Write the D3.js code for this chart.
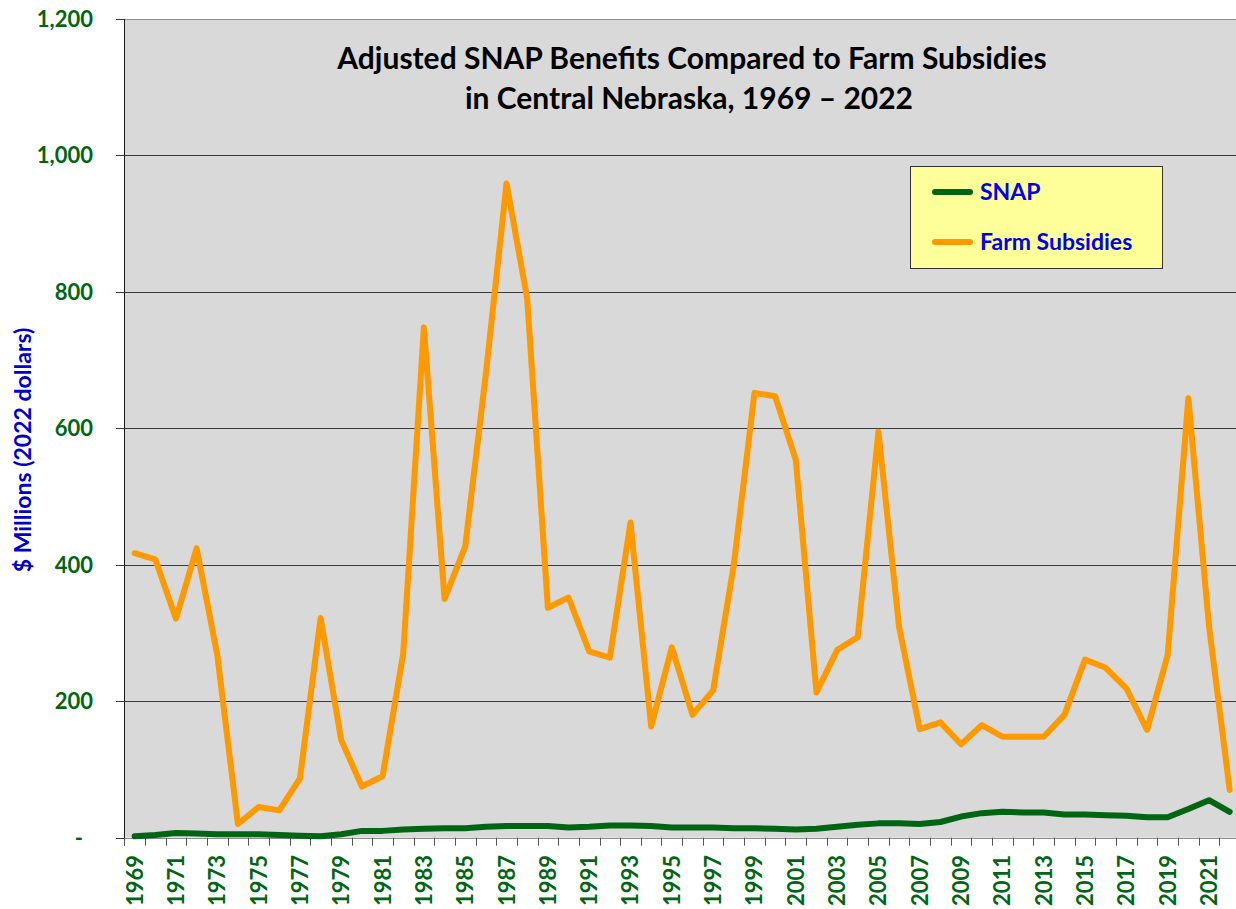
<!DOCTYPE html>
<html>
<head>
<meta charset="utf-8">
<script src="https://cdn.jsdelivr.net/npm/d3@7/dist/d3.min.js"></script>
<style>
  html, body { margin: 0; padding: 0; background: #ffffff; }
  svg { display: block; }
  text { font-family: Lato, "Open Sans", sans-serif; font-weight: bold; }
</style>
</head>
<body>
<svg id="chart" width="1236" height="909"></svg>
<script>
const years = [1969,1970,1971,1972,1973,1974,1975,1976,1977,1978,
  1979,1980,1981,1982,1983,1984,1985,1986,1987,1988,
  1989,1990,1991,1992,1993,1994,1995,1996,1997,1998,
  1999,2000,2001,2002,2003,2004,2005,2006,2007,2008,
  2009,2010,2011,2012,2013,2014,2015,2016,2017,2018,
  2019,2020,2021,2022];
const snap = [2,4,7,6,5,5,5,4,3,2,
  5,10,10,12,13,14,14,16,17,17,
  17,15,16,18,18,17,15,15,15,14,
  14,13,12,13,16,19,21,21,20,23,
  31,36,38,37,37,34,34,33,32,30,
  30,42,55,38];
const farm = [417,408,321,424,268,20,45,40,87,322,
  143,75,90,270,748,350,427,680,959,790,
  337,352,273,264,462,163,279,180,216,400,
  652,647,554,213,275,294,595,309,159,169,
  137,165,148,148,148,180,261,249,219,158,
  268,644,310,70];
const yTicks = [0,200,400,600,800,1000,1200];
const titleLines = ["Adjusted SNAP Benefits Compared to Farm Subsidies", "in Central Nebraska, 1969 \u2013 2022"];
const seriesNames = ["SNAP", "Farm Subsidies"];
const yAxisTitle = "$ Millions (2022 dollars)";

const svg = d3.select("#chart");
const pL = 124.3, pR = 1240, pT = 19, pB = 837.7;
const W = 1236;

const x = d3.scaleBand().domain(years).range([pL, pR]).paddingInner(0).paddingOuter(0);
const y = d3.scaleLinear().domain([0, 1200]).range([pB, pT]);
const cx = d => x(d) + x.bandwidth() / 2;

// plot background
svg.append("rect").attr("x", pL).attr("y", pT).attr("width", W - pL).attr("height", pB - pT).attr("fill", "#d9d9d9");

// gridlines + y ticks
const g = svg.append("g");
yTicks.forEach(t => {
  const yy = Math.round(y(t)) + 0.5;
  g.append("line").attr("x1", 116).attr("x2", W).attr("y1", yy).attr("y2", yy)
    .attr("stroke", (t === 1200 || t === 0) ? "#8c8c8c" : "#3a3a3a").attr("stroke-width", 1);
  g.append("line").attr("x1", 116).attr("x2", pL).attr("y1", yy).attr("y2", yy)
    .attr("stroke", "#3a3a3a").attr("stroke-width", 1);
  g.append("text").attr("x", t === 0 ? 83 : 93).attr("y", y(t)).attr("dy", "0.36em")
    .attr("text-anchor", "end").attr("fill", "#006614").style("font-size", "22px")
    .text(t === 0 ? "-" : d3.format(",")(t));
});
// left axis
svg.append("line").attr("x1", Math.round(pL) + 0.5).attr("x2", Math.round(pL) + 0.5)
  .attr("y1", pT).attr("y2", pB + 8).attr("stroke", "#1a1a1a");

// x ticks at band boundaries
years.forEach(yr => {
  const xx = Math.round(x(yr)) + 0.5;
  svg.append("line").attr("x1", xx).attr("x2", xx).attr("y1", pB).attr("y2", pB + 8)
    .attr("stroke", "#555").attr("stroke-width", 1);
});
// x labels (every other year)
years.forEach((yr, i) => {
  if (i % 2 !== 0) return;
  svg.append("text")
    .attr("transform", `translate(${cx(yr) + 8},855) rotate(-90)`)
    .attr("text-anchor", "end").attr("fill", "#006614").style("font-size", "22px")
    .text(yr);
});

// lines
const lineGen = d3.line().x((d, i) => cx(years[i])).y(d => y(d));
svg.append("path").datum(farm).attr("d", lineGen).attr("fill", "none")
  .attr("stroke", "#ff9900").attr("stroke-width", 6).attr("stroke-linejoin", "round").attr("stroke-linecap", "round");
svg.append("path").datum(snap).attr("d", lineGen).attr("fill", "none")
  .attr("stroke", "#006614").attr("stroke-width", 6).attr("stroke-linejoin", "round").attr("stroke-linecap", "round");

// title
svg.append("text").attr("x", 692).attr("y", 69).attr("text-anchor", "middle")
  .attr("fill", "#000").style("font-size", "30px").text(titleLines[0]);
svg.append("text").attr("x", 689).attr("y", 109).attr("text-anchor", "middle")
  .attr("fill", "#000").style("font-size", "30px").text(titleLines[1]);

// y axis title
svg.append("text").attr("transform", "translate(31,450) rotate(-90)")
  .attr("text-anchor", "middle").attr("fill", "#0000cc").style("font-size", "23px").text(yAxisTitle);

// legend
const lg = svg.append("g");
lg.append("rect").attr("x", 910.5).attr("y", 166.5).attr("width", 252).attr("height", 102)
  .attr("fill", "#ffff99").attr("stroke", "#333").attr("stroke-width", 1);
const colors = ["#006614", "#ff9900"];
seriesNames.forEach((n, i) => {
  const ly = 192 + i * 50;
  lg.append("line").attr("x1", 935).attr("x2", 970).attr("y1", ly).attr("y2", ly)
    .attr("stroke", colors[i]).attr("stroke-width", 6).attr("stroke-linecap", "round");
  lg.append("text").attr("x", 980).attr("y", ly + 8).attr("fill", "#0000ee").style("font-size", "23px").text(n);
});
</script>
</body>
</html>
